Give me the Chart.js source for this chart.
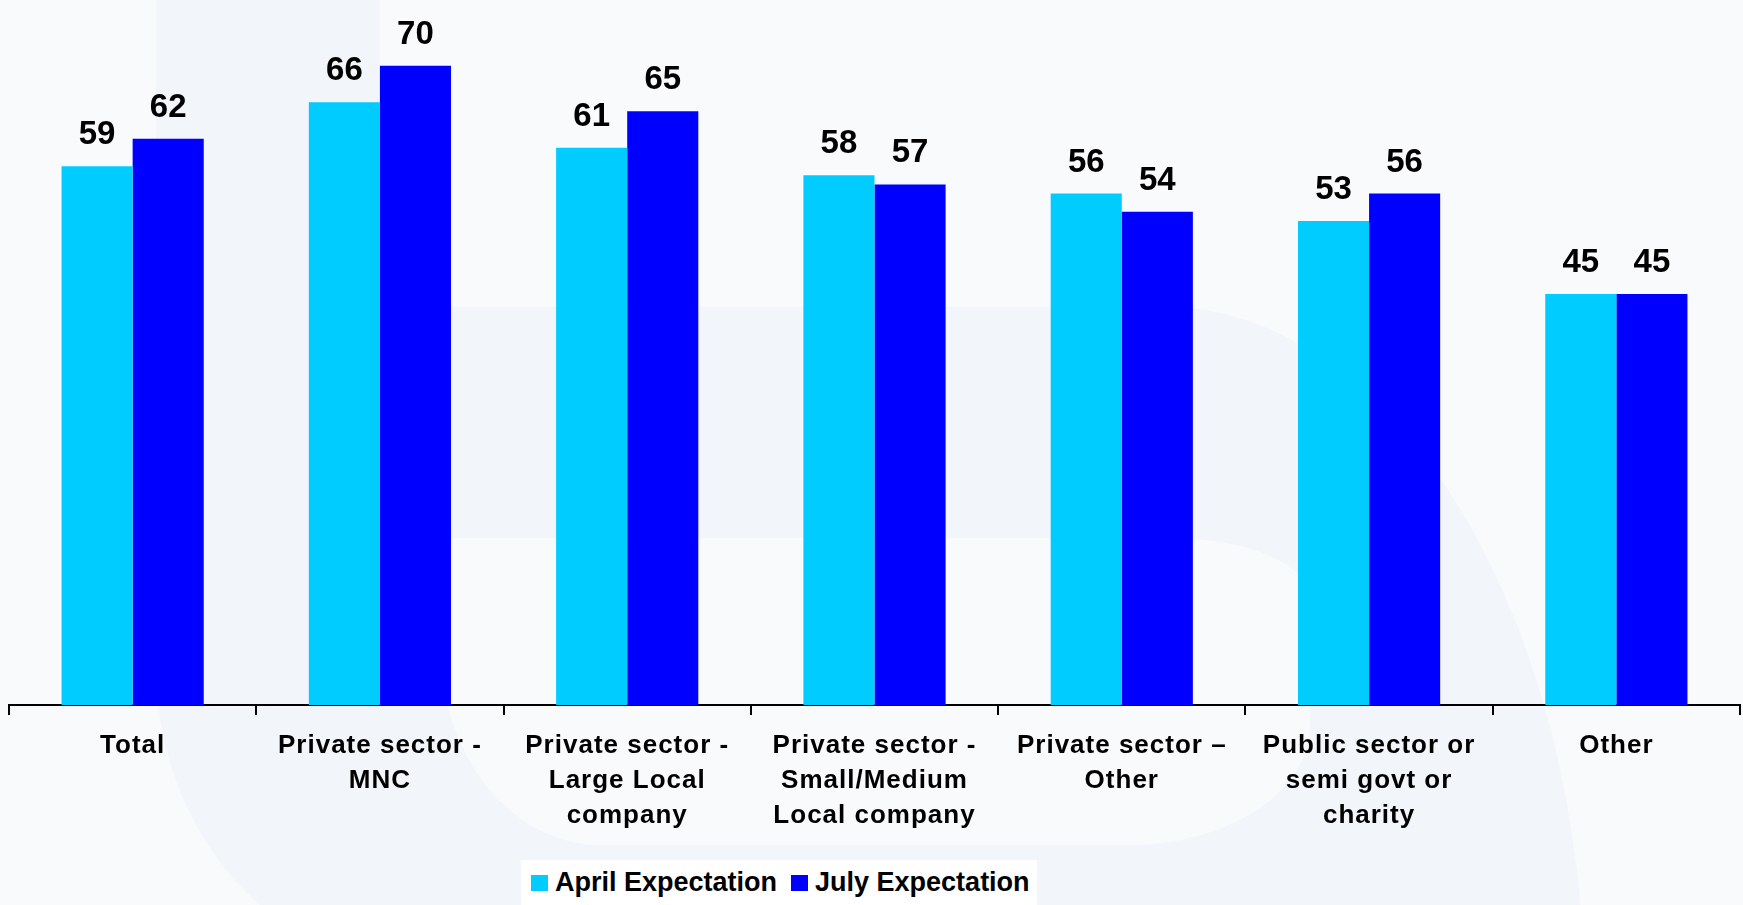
<!DOCTYPE html>
<html>
<head>
<meta charset="utf-8">
<script src="https://cdn.jsdelivr.net/npm/chart.js@4.4.0/dist/chart.umd.min.js"></script>
<style>
html,body{margin:0;padding:0;}
body{width:1743px;height:905px;overflow:hidden;position:relative;background:#f9fafc;font-family:"Liberation Sans",Arial,sans-serif;}
.mark{position:absolute;background:#f2f5f9;}
.clear{position:absolute;background:#f9fafc;}
#chart{position:absolute;left:0;top:0;}
#legend{position:absolute;left:521px;top:860px;width:516px;height:45px;box-sizing:border-box;padding-left:10px;background:#fff;display:flex;align-items:center;font-weight:bold;font-size:27px;color:#000;white-space:nowrap;}
#legend .item{display:flex;align-items:center;margin-right:14px;}
#legend .sw{width:17px;height:16px;margin-right:7px;}
</style>
</head>
<body>
<!-- faint backdrop shapes -->
<div class="mark" style="left:156px;top:-10px;width:224px;height:330px;"></div>
<div class="mark" style="left:156px;top:307px;width:500px;height:658px;border-bottom-left-radius:260px 300px;"></div>
<div class="mark" style="left:380px;top:307px;width:1205px;height:900px;border-top-right-radius:420px 700px;"></div>
<div class="clear" style="left:440px;top:538px;width:870px;height:307px;border-radius:0 140px 180px 160px / 0 60px 120px 200px;"></div>

<canvas id="chart" width="1743" height="905"></canvas>
<div id="legend"></div>

<script>
const categories = [
  'Total',
  ['Private sector -', 'MNC'],
  ['Private sector -', 'Large Local', 'company'],
  ['Private sector -', 'Small/Medium', 'Local company'],
  ['Private sector \u2013', 'Other'],
  ['Public sector or', 'semi govt or', 'charity'],
  'Other'
];
const aprilValues = [59, 66, 61, 58, 56, 53, 45];
const julyValues = [62, 70, 65, 57, 54, 56, 45];
const seriesNames = ['April Expectation', 'July Expectation'];
const yMax = 75;

const colors = ['#00CCFF', '#0000FF'];
const fontFamily = '"Liberation Sans", Arial, sans-serif';

// category labels are drawn a little spaced out
const spacedText = {
  id: 'spacedText',
  beforeDraw(chart) { chart.ctx.letterSpacing = '1px'; }
};

// numbers above each bar
const valueLabels = {
  id: 'valueLabels',
  afterDatasetsDraw(chart) {
    const ctx = chart.ctx;
    ctx.save();
    ctx.letterSpacing = '0px';
    ctx.font = 'bold 33px ' + fontFamily;
    ctx.fillStyle = '#000';
    ctx.textAlign = 'center';
    ctx.textBaseline = 'middle';
    chart.data.datasets.forEach((ds, i) => {
      chart.getDatasetMeta(i).data.forEach((bar, j) => {
        ctx.fillText(String(ds.data[j]), bar.x, bar.y - 31);
      });
    });
    ctx.restore();
  }
};

new Chart(document.getElementById('chart'), {
  type: 'bar',
  data: {
    labels: categories,
    datasets: [
      {label: seriesNames[0], data: aprilValues, backgroundColor: colors[0]},
      {label: seriesNames[1], data: julyValues, backgroundColor: colors[1]}
    ]
  },
  options: {
    responsive: false,
    animation: false,
    layout: {padding: {left: 9, right: 3, top: 20, bottom: 0}},
    datasets: {bar: {barPercentage: 1, categoryPercentage: 0.575}},
    plugins: {legend: {display: false}, tooltip: {enabled: false}},
    scales: {
      x: {
        grid: {display: true, drawOnChartArea: false, drawTicks: true, tickLength: 10, color: '#000', lineWidth: 2, offset: true},
        border: {display: true, color: '#000', width: 2},
        ticks: {
          color: '#000', padding: 13, maxRotation: 0, autoSkip: false,
          font: {family: fontFamily, size: 26, weight: 'bold', lineHeight: 1.35}
        },
        afterFit(scale) { scale.height = 200; }
      },
      y: {display: false, min: 0, max: yMax}
    }
  },
  plugins: [spacedText, valueLabels]
});

// legend strip under the axis
const legend = document.getElementById('legend');
seriesNames.forEach((name, i) => {
  const item = document.createElement('div');
  item.className = 'item';
  item.innerHTML = '<span class="sw" style="background:' + colors[i] + '"></span><span>' + name + '</span>';
  legend.appendChild(item);
});
</script>
</body>
</html>
